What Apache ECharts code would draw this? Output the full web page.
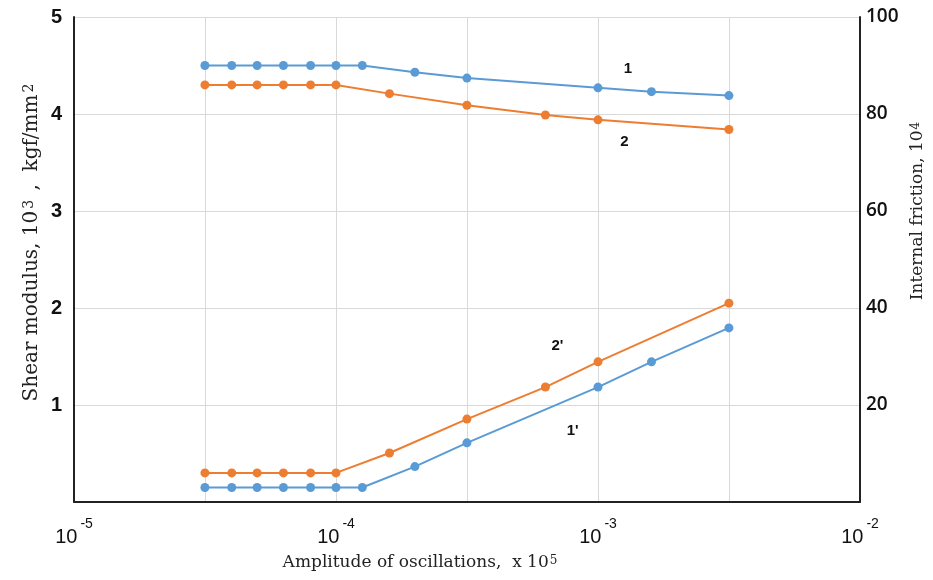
<!DOCTYPE html>
<html>
<head>
<meta charset="utf-8">
<script src="https://cdn.jsdelivr.net/npm/echarts@6/dist/echarts.min.js"></script>
<style>
  html, body { margin: 0; padding: 0; background: #fff; }
  #main { width: 933px; height: 580px; }
</style>
</head>
<body>
<div id="main"></div>
<script>
// amplitude of oscillations (x positions)
const ampBlue = [3.16e-5, 4e-5, 5e-5, 6.3e-5, 8e-5, 1e-4, 1.26e-4, 2e-4, 3.16e-4, 1e-3, 1.6e-3, 3.16e-3];
const ampOrange = [3.16e-5, 4e-5, 5e-5, 6.3e-5, 8e-5, 1e-4, 1.6e-4, 3.16e-4, 6.3e-4, 1e-3, 3.16e-3];

// shear modulus, left axis (curves 1 and 2)
const shear1 = [4.5, 4.5, 4.5, 4.5, 4.5, 4.5, 4.5, 4.43, 4.37, 4.27, 4.23, 4.19];
const shear2 = [4.3, 4.3, 4.3, 4.3, 4.3, 4.3, 4.21, 4.09, 3.99, 3.94, 3.84];

// internal friction, right axis (curves 1' and 2')
const friction1 = [3, 3, 3, 3, 3, 3, 3, 7.3, 12.2, 23.7, 28.9, 35.9];
const friction2 = [6, 6, 6, 6, 6, 6, 10.1, 17.1, 23.7, 28.9, 41];

// curve number labels: [amplitude, value]
const curveLabels = [
  {name: '1', at: [1.3e-3, 4.47]},
  {name: '2', at: [1.26e-3, 3.71]},
  {name: "1'", at: [8.0e-4, 14.6]},
  {name: "2'", at: [7.0e-4, 32.2]}
];

const blue = '#5b9bd5';
const orange = '#ed7d31';

function pairs(xs, ys) {
  return xs.map((x, i) => [x, ys[i]]);
}

function curveMark(name) {
  const c = curveLabels.find(l => l.name === name);
  return {
    symbol: 'circle',
    symbolSize: 0,
    label: {
      show: true,
      position: 'inside',
      formatter: c.name,
      color: '#111',
      fontFamily: 'Liberation Sans',
      fontSize: 15,
      fontWeight: 'bold'
    },
    data: [{coord: c.at}]
  };
}

const chart = echarts.init(document.getElementById('main'));

const serif = 'DejaVu Serif';
const supStyle = {fontFamily: serif, fontSize: 12, fill: '#222', verticalAlign: 'top', lineHeight: 10, padding: [0, 2, 0, 1]};
const supStyleBig = {fontFamily: serif, fontSize: 14, fill: '#222', verticalAlign: 'top', lineHeight: 11, padding: [0, 3, 0, 2]};

const option = {
  animation: false,
  grid: {left: 74, right: 73, top: 17, bottom: 78},
  xAxis: {
    type: 'log',
    logBase: Math.sqrt(10),
    min: 1e-5,
    max: 1e-2,
    splitNumber: 6,
    axisLine: {show: true, lineStyle: {color: '#222', width: 2}},
    axisTick: {show: false},
    splitLine: {show: true, lineStyle: {color: '#d9d9d9', width: 1}},
    axisLabel: {
      margin: 15,
      formatter: function (v) {
        const e = Math.log10(v);
        const r = Math.round(e);
        if (Math.abs(e - r) > 0.05) return '';
        return '{b|10}{s|' + r + '}';
      },
      rich: {
        b: {fontFamily: 'Liberation Sans', fontSize: 20, color: '#111', lineHeight: 30, verticalAlign: 'bottom'},
        s: {fontFamily: 'Liberation Sans', fontSize: 14, color: '#111', lineHeight: 14, verticalAlign: 'top', padding: [0, 0, 0, 3]}
      }
    }
  },
  yAxis: [
    {
      type: 'value',
      min: 0,
      max: 5,
      interval: 1,
      position: 'left',
      axisLine: {show: true, lineStyle: {color: '#222', width: 2}},
      axisTick: {show: false},
      splitLine: {show: true, lineStyle: {color: '#d9d9d9', width: 1}},
      axisLabel: {
        margin: 12,
        color: '#111',
        fontFamily: 'Liberation Sans',
        fontWeight: 'bold',
        fontSize: 20,
        formatter: v => (v === 0 ? '' : String(v))
      }
    },
    {
      type: 'value',
      min: 0,
      max: 100,
      interval: 20,
      position: 'right',
      axisLine: {show: true, lineStyle: {color: '#222', width: 2}},
      axisTick: {show: false},
      splitLine: {show: false},
      axisLabel: {
        margin: 6,
        color: '#111',
        fontFamily: 'Open Sans',
        fontWeight: 600,
        fontSize: 19,
        formatter: v => (v === 0 ? '' : String(v))
      }
    }
  ],
  series: [
    {
      name: '1',
      type: 'line',
      yAxisIndex: 0,
      data: pairs(ampBlue, shear1),
      symbol: 'circle',
      symbolSize: 9,
      lineStyle: {color: blue, width: 2},
      itemStyle: {color: blue},
      markPoint: curveMark('1')
    },
    {
      name: '2',
      type: 'line',
      yAxisIndex: 0,
      data: pairs(ampOrange, shear2),
      symbol: 'circle',
      symbolSize: 9,
      lineStyle: {color: orange, width: 2},
      itemStyle: {color: orange},
      markPoint: curveMark('2')
    },
    {
      name: "1'",
      type: 'line',
      yAxisIndex: 1,
      data: pairs(ampBlue, friction1),
      symbol: 'circle',
      symbolSize: 9,
      lineStyle: {color: blue, width: 2},
      itemStyle: {color: blue},
      markPoint: curveMark("1'")
    },
    {
      name: "2'",
      type: 'line',
      yAxisIndex: 1,
      data: pairs(ampOrange, friction2),
      symbol: 'circle',
      symbolSize: 9,
      lineStyle: {color: orange, width: 2},
      itemStyle: {color: orange},
      markPoint: curveMark("2'")
    }
  ],
  graphic: [
    {
      type: 'text',
      x: 32,
      y: 241,
      rotation: Math.PI / 2,
      style: {
        text: 'Shear modulus, 10{s|3} ,  kgf/mm{s|2}',
        font: '20px "DejaVu Serif"',
        fill: '#222',
        align: 'center',
        verticalAlign: 'middle',
        rich: {s: supStyleBig}
      }
    },
    {
      type: 'text',
      x: 918,
      y: 210,
      rotation: Math.PI / 2,
      style: {
        text: 'Internal friction, 10{s|4}',
        font: '17px "DejaVu Serif"',
        fill: '#222',
        align: 'center',
        verticalAlign: 'middle',
        rich: {s: supStyle}
      }
    },
    {
      type: 'text',
      x: 421,
      y: 563,
      style: {
        text: 'Amplitude of oscillations,  x 10{s|5}',
        font: '17px "DejaVu Serif"',
        fill: '#222',
        align: 'center',
        verticalAlign: 'middle',
        rich: {s: supStyle}
      }
    }
  ]
};

chart.setOption(option);
</script>
</body>
</html>
